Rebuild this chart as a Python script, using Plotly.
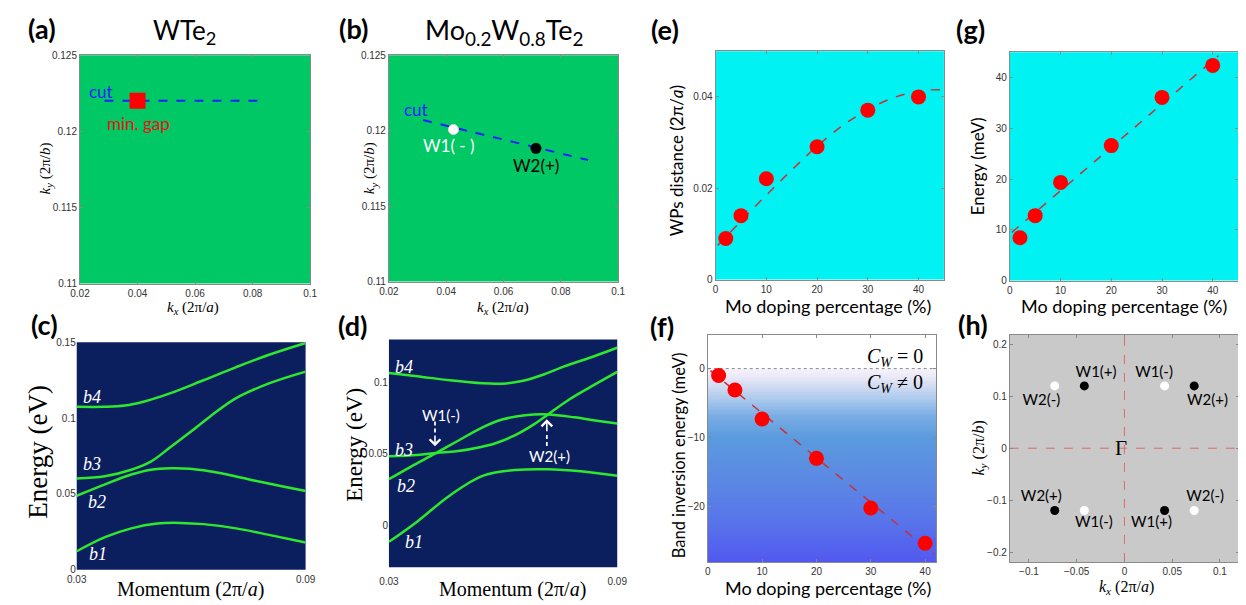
import numpy as np
import plotly.graph_objects as go

W, H = 1246, 605

# ---------------- data ----------------
# (a) WTe2 k-plane
a_cut_kx = [0.0285, 0.0846]
a_cut_ky = [0.1220, 0.1220]
a_gap_kx = [0.0400]
a_gap_ky = [0.1220]

# (b) Mo0.2W0.8Te2 k-plane
b_cut_kx = [0.0319, 0.0895]
b_cut_ky = [0.1207, 0.11805]
b_w1_kx, b_w1_ky = [0.0425], [0.12007]
b_w2_kx, b_w2_ky = [0.0713], [0.11883]

# (c) WTe2 bands
c_b4_k = [0.03, 0.0374, 0.0426, 0.0477, 0.0546, 0.0632, 0.0718, 0.0804, 0.09]
c_b4_e = [0.1075, 0.1075, 0.1083, 0.1110, 0.1165, 0.1250, 0.1337, 0.1418, 0.1496]
c_b3_k = [0.03, 0.0374, 0.0443, 0.0494, 0.0546, 0.0597, 0.0649, 0.0718, 0.0804, 0.09]
c_b3_e = [0.0602, 0.0617, 0.0660, 0.0713, 0.0810, 0.0907, 0.1010, 0.1132, 0.1229, 0.1307]
c_b2_k = [0.03, 0.0374, 0.0443, 0.0494, 0.0546, 0.0597, 0.0675, 0.0761, 0.0847, 0.09]
c_b2_e = [0.0488, 0.0563, 0.0628, 0.0660, 0.0670, 0.0666, 0.0638, 0.0591, 0.0546, 0.0520]
c_b1_k = [0.03, 0.0374, 0.0443, 0.0511, 0.0572, 0.0632, 0.0718, 0.0804, 0.09]
c_b1_e = [0.0122, 0.0215, 0.0273, 0.0305, 0.0309, 0.0301, 0.0273, 0.0230, 0.0180]

# (d) Mo0.2W0.8Te2 bands
d_b4_k = [0.03, 0.0374, 0.046, 0.0546, 0.0597, 0.0649, 0.0701, 0.0761, 0.083, 0.09]
d_b4_e = [0.1066, 0.1043, 0.1014, 0.0993, 0.0991, 0.1009, 0.1050, 0.1112, 0.1174, 0.1242]
d_b3_k = [0.03, 0.0374, 0.0426, 0.0477, 0.0529, 0.058, 0.0632, 0.0684, 0.0718, 0.0769, 0.083, 0.09]
d_b3_e = [0.0484, 0.0493, 0.0507, 0.0518, 0.0541, 0.0575, 0.0632, 0.0712, 0.0776, 0.0872, 0.0968, 0.1073]
d_b2_k = [0.03, 0.0357, 0.0421, 0.0477, 0.0546, 0.0597, 0.0658, 0.0718, 0.0787, 0.0847, 0.09]
d_b2_e = [0.0324, 0.0410, 0.0502, 0.0585, 0.0685, 0.0740, 0.0770, 0.0776, 0.0756, 0.0732, 0.0712]
d_b1_k = [0.03, 0.0374, 0.046, 0.0546, 0.0632, 0.0718, 0.0804, 0.09]
d_b1_e = [-0.0114, 0.0027, 0.0210, 0.0347, 0.0388, 0.0393, 0.0379, 0.0347]
d_w1 = (0.0421, 0.0727, 0.0553)   # k, arrow start, arrow tip
d_w2 = (0.0715, 0.0555, 0.0742)

# (e) Weyl point distance
doping = [2, 5, 10, 20, 30, 40]
e_dist = [0.0090, 0.0140, 0.0221, 0.0291, 0.0371, 0.0400]
e_fit_x = [0.4, 5, 10, 15, 20, 25, 30, 35, 40, 44.5]
e_fit_y = [0.0075, 0.0128, 0.0185, 0.0240, 0.0292, 0.0337, 0.0372, 0.0398, 0.0413, 0.0416]

# (g) Energy
g_energy = [8.45, 12.8, 19.35, 26.6, 36.1, 42.4]
g_fit_x = [0.4, 41.1]
g_fit_y = [9.5, 44.3]

# (f) Band inversion energy
f_energy = [-1.0, -3.1, -7.3, -13.0, -20.2, -25.3]
f_fit_x = [0.5, 41.6]
f_fit_y = [-0.3, -26.9]

# (h) Weyl points in BZ
h_black_kx = [-0.042, 0.073, -0.073, 0.042]
h_black_ky = [0.12, 0.12, -0.12, -0.12]
h_white_kx = [-0.073, 0.042, -0.042, 0.073]
h_white_ky = [0.12, 0.12, -0.12, -0.12]
h_labels = ["W1(+)", "W2(-)", "W1(-)", "W2(+)", "W2(+)", "W1(-)", "W1(+)", "W2(-)"]
h_label_kx = [-0.0297, -0.087, 0.031, 0.0869, -0.087, -0.032, 0.0283, 0.0845]
h_label_ky = [0.144, 0.0905, 0.144, 0.0905, -0.095, -0.1437, -0.1437, -0.095]

# ---------------- styles ----------------
GREEN_BG = "#00c864"
CYAN_BG = "#00f2f2"
NAVY_BG = "#0b1f5e"
GRAY_BG = "#c9c9c9"
BAND = "#2ee82e"
RED = "#ff0000"
FIT = "#c8303a"
SANS = "Lato"
SERIF = "Liberation Serif"
TICKF = dict(family="Liberation Sans", size=10, color="#333333")

fig = go.Figure()


def r(n):
    return "" if n == 1 else str(n)


def add(n, **kw):
    kw.setdefault("hoverinfo", "skip")
    kw.setdefault("showlegend", False)
    fig.add_trace(go.Scatter(xaxis="x" + r(n), yaxis="y" + r(n), **kw))


layout = dict(width=W, height=H, margin=dict(l=0, r=0, t=0, b=0),
              paper_bgcolor="white", plot_bgcolor="rgba(0,0,0,0)",
              showlegend=False, font=dict(family=SANS))

panels = {
    1: (63, 297, 42, 275),
    2: (377, 610, 42, 273),
    3: (709, 941, 38, 271),
    4: (1008, 1240, 39, 272),
    5: (59.7, 292.3, 335, 567),
    6: (377, 609, 332, 564.5),
    7: (701, 933, 328, 559),
    8: (1008, 1241, 327, 559),
}


def set_axes(n, xr, yr, xt, xtt, yt, ytt, frame=True, xstand=0):
    l, rr, t, b = panels[n]
    common = dict(showgrid=False, zeroline=False, tickfont=TICKF,
                  showline=frame, linecolor="#8a8a8a", linewidth=1,
                  mirror="ticks" if frame else False,
                  ticks="inside" if frame else "", ticklen=3, tickcolor="#8a8a8a")
    layout["xaxis" + r(n)] = dict(domain=[l / W, rr / W], anchor="y" + r(n), range=xr,
                                  tickmode="array", tickvals=xt, ticktext=xtt,
                                  ticklabelstandoff=xstand, **common)
    layout["yaxis" + r(n)] = dict(domain=[1 - b / H, 1 - t / H], anchor="x" + r(n), range=yr,
                                  tickmode="array", tickvals=yt, ticktext=ytt, **common)


set_axes(1, [0.02, 0.1], [0.11, 0.125],
         [0.02, 0.04, 0.06, 0.08, 0.1], ["0.02", "0.04", "0.06", "0.08", "0.1"],
         [0.11, 0.115, 0.12, 0.125], ["0.11", "0.115", "0.12", "0.125"])
set_axes(2, [0.02, 0.1], [0.11, 0.125],
         [0.02, 0.04, 0.06, 0.08, 0.1], ["0.02", "0.04", "0.06", "0.08", "0.1"],
         [0.11, 0.115, 0.12, 0.125], ["0.11", "0.115", "0.12", "0.125"])
set_axes(3, [0, 45], [0, 0.05],
         [0, 10, 20, 30, 40], ["0", "10", "20", "30", "40"],
         [0, 0.02, 0.04], ["0", "0.02", "0.04"])
set_axes(4, [0, 45], [0, 45],
         [0, 10, 20, 30, 40], ["0", "10", "20", "30", "40"],
         [0, 10, 20, 30, 40], ["0", "10", "20", "30", "40"])
set_axes(5, [0.03, 0.09], [0, 0.15],
         [0.03, 0.09], ["0.03", "0.09"],
         [0, 0.05, 0.1, 0.15], ["0", "0.05", "0.1", "0.15"], frame=False, xstand=2)
set_axes(6, [0.03, 0.09], [-0.0292, 0.130],
         [0.03, 0.09], ["0.03", "0.09"],
         [0, 0.05, 0.1], ["0", "0.05", "0.1"], frame=False, xstand=7)
set_axes(7, [0, 42], [-28, 4.8],
         [0, 10, 20, 30, 40], ["0", "10", "20", "30", "40"],
         [-20, -10, 0], ["\u221220", "\u221210", "0"])
set_axes(8, [-0.12, 0.12], [-0.219, 0.219],
         [-0.1, -0.05, 0, 0.05, 0.1], ["\u22120.1", "\u22120.05", "0", "0.05", "0.1"],
         [-0.2, -0.1, 0, 0.1, 0.2], ["\u22120.2", "\u22120.1", "0", "0.1", "0.2"])

# backgrounds
shapes = []
for n, col in [(1, GREEN_BG), (2, GREEN_BG), (3, CYAN_BG), (4, CYAN_BG),
               (5, NAVY_BG), (6, NAVY_BG), (8, GRAY_BG)]:
    shapes.append(dict(type="rect", xref="x" + r(n) + " domain", yref="y" + r(n) + " domain",
                       x0=0, x1=1, y0=0, y1=1, fillcolor=col, line=dict(width=0), layer="below"))
layout["shapes"] = shapes

# (f) gradient background
f_grad_levels = np.linspace(-28.4, -0.1, 143)
f_colorscale = [[0.0, "#5258f0"], [0.214, "#5875ea"], [0.464, "#5b8ce2"], [0.643, "#5b9ade"],
                [0.75, "#78ace4"], [0.857, "#b4cdee"], [0.946, "#e6e6f6"], [1.0, "#f7f3fb"]]
fig.add_trace(go.Heatmap(x=[-1, 43], y=f_grad_levels,
                         z=[[v, v] for v in f_grad_levels], zmin=-28, zmax=0,
                         colorscale=f_colorscale, showscale=False, hoverinfo="skip",
                         xaxis="x7", yaxis="y7"))

# (a)
add(1, x=a_cut_kx, y=a_cut_ky, mode="lines", line=dict(color="#1f1fff", width=2, dash="dash"))
add(1, x=a_gap_kx, y=a_gap_ky, mode="markers",
    marker=dict(symbol="square", size=16, color=RED))

# (b)
add(2, x=b_cut_kx, y=b_cut_ky, mode="lines", line=dict(color="#1f1fff", width=2, dash="dash"))
add(2, x=b_w1_kx, y=b_w1_ky, mode="markers",
    marker=dict(size=10, color="white", line=dict(color="#dddddd", width=1)))
add(2, x=b_w2_kx, y=b_w2_ky, mode="markers", marker=dict(size=11, color="black"))

# (c)
for k, e in [(c_b1_k, c_b1_e), (c_b2_k, c_b2_e), (c_b3_k, c_b3_e), (c_b4_k, c_b4_e)]:
    add(5, x=k, y=e, mode="lines", line=dict(color=BAND, width=2.5, shape="spline"))

# (d)
for k, e in [(d_b1_k, d_b1_e), (d_b2_k, d_b2_e), (d_b3_k, d_b3_e), (d_b4_k, d_b4_e)]:
    add(6, x=k, y=e, mode="lines", line=dict(color=BAND, width=2.5, shape="spline"))
for kk, e0, e1 in [d_w1, d_w2]:
    add(6, x=[kk, kk], y=[e0, e0 + (e1 - e0) * 0.5], mode="lines",
        line=dict(color="white", width=1.8, dash="4px,3px"))

# (e)
add(3, x=e_fit_x, y=e_fit_y, mode="lines", line=dict(color=FIT, width=1.5, dash="dash", shape="spline"))
add(3, x=doping, y=e_dist, mode="markers", marker=dict(size=15, color=RED))

# (g)
add(4, x=g_fit_x, y=g_fit_y, mode="lines", line=dict(color=FIT, width=1.5, dash="dash"))
add(4, x=doping, y=g_energy, mode="markers", marker=dict(size=15, color=RED))

# (f)
add(7, x=[0, 42], y=[0, 0], mode="lines", line=dict(color="#888888", width=1, dash="dot"))
add(7, x=f_fit_x, y=f_fit_y, mode="lines", line=dict(color=FIT, width=1.5, dash="dash"))
add(7, x=doping, y=f_energy, mode="markers", marker=dict(size=15, color=RED))

# (h)
add(8, x=[-0.12, 0.12], y=[0, 0], mode="lines", line=dict(color="#e06a6a", width=1, dash="dash"))
add(8, x=[0, 0], y=[-0.219, 0.219], mode="lines", line=dict(color="#e06a6a", width=1, dash="dash"))
add(8, x=h_black_kx, y=h_black_ky, mode="markers", marker=dict(size=9, color="black"))
add(8, x=h_white_kx, y=h_white_ky, mode="markers", marker=dict(size=9, color="white"))
add(8, x=h_label_kx, y=h_label_ky, mode="text", text=h_labels,
    textfont=dict(family=SANS, size=15, color="black"))

# ---------------- annotations ----------------
ann = []


def txt(xp, yp, text, size, color="black", family=SANS, angle=0, xanchor="center"):
    ann.append(dict(x=xp / W, y=1 - yp / H, xref="paper", yref="paper", text=text,
                    showarrow=False, textangle=angle, xanchor=xanchor, yanchor="middle",
                    font=dict(family=family, size=size, color=color)))


def dtxt(n, x, y, text, size, color, family=SANS):
    ann.append(dict(x=x, y=y, xref="x" + r(n), yref="y" + r(n), text=text, showarrow=False,
                    font=dict(family=family, size=size, color=color)))


# panel labels
for lab, xp, yp in [("(a)", 24, 15), ("(b)", 341, 15), ("(e)", 658, 16), ("(g)", 968, 16),
                    ("(c)", 27, 317), ("(d)", 340, 318), ("(f)", 655, 319), ("(h)", 971, 317)]:
    txt(xp, yp, "<b>" + lab + "</b>", 27)

# titles
txt(169, 18, "WTe<sub>2</sub>", 26)
txt(494, 18, "Mo<sub>0.2</sub>W<sub>0.8</sub>Te<sub>2</sub>", 27)

# axis titles
ky_b = "<i>k<sub>y</sub></i> (2\u03c0/<i>b</i>)"
kx_a = "<i>k<sub>x</sub></i> (2\u03c0/<i>a</i>)"
txt(28, 158, ky_b, 15, family=SERIF, angle=-90)
txt(178, 300, kx_a, 15, family=SERIF)
txt(358, 157, ky_b, 15, family=SERIF, angle=-90)
txt(493, 300, kx_a, 15, family=SERIF)

txt(20, 447, "Energy (eV)", 27, family=SERIF, angle=-90)
txt(175, 587, "Momentum (2\u03c0/<i>a</i>)", 20, family=SERIF)
txt(342, 440, "Energy (eV)", 23, family=SERIF, angle=-90)
txt(503, 587, "Momentum (2\u03c0/<i>a</i>)", 20, family=SERIF)

txt(669, 150, "WPs distance (2\u03c0/<i>a</i>)", 17, angle=-90)
txt(823, 298, "Mo doping percentage (%)", 18)
txt(976, 155, "Energy (meV)", 17, angle=-90)
txt(1124, 298, "Mo doping percentage (%)", 18)
txt(672, 450, "Band inversion energy (meV)", 16.5, angle=-90)
txt(823, 586, "Mo doping percentage (%)", 18)
txt(977, 443, ky_b, 16, family=SERIF, angle=-90)
txt(1127, 585, kx_a, 16, family=SERIF)

# (f) Chern labels
txt(922, 350, "<i>C<sub>W</sub></i> = 0", 20, family=SERIF, xanchor="right")
txt(922, 377, "<i>C<sub>W</sub></i> \u2260 0", 20, family=SERIF, xanchor="right")

# (a), (b) texts
dtxt(1, 0.0272, 0.1226, "cut", 17, "#1f1fff")
dtxt(1, 0.0402, 0.1205, "min. gap", 17, "#ee1111")
dtxt(2, 0.0296, 0.1214, "cut", 17, "#1f1fff")
dtxt(2, 0.0409, 0.1190, "W1( - )", 17, "white")
dtxt(2, 0.0712, 0.1177, "W2(+)", 17, "black")

# (c), (d) band labels
for n, items in [(5, [("b4", 0.0340, 0.1140), ("b3", 0.0340, 0.0696),
                      ("b2", 0.0352, 0.0445), ("b1", 0.0357, 0.0107)]),
                 (6, [("b4", 0.0340, 0.1107), ("b3", 0.0340, 0.0530),
                      ("b2", 0.0345, 0.0274), ("b1", 0.0365, -0.0114)])]:
    for t, x, y in items:
        dtxt(n, x, y, "<i>" + t + "</i>", 18, "white", family=SERIF)

dtxt(6, 0.0438, 0.0771, "W1(-)", 15, "white")
dtxt(6, 0.0722, 0.0487, "W2(+)", 15, "white")
# arrows (solid tip part with chevron head; dashed shaft drawn as trace above)
for kk, e0, e1 in [d_w1, d_w2]:
    ann.append(dict(x=kk, y=e1, xref="x6", yref="y6", ax=kk, ay=e0 + (e1 - e0) * 0.5,
                    axref="x6", ayref="y6", showarrow=True, arrowhead=4, arrowsize=1.3,
                    arrowwidth=1.6, arrowcolor="white", text=""))

# (h) Gamma
dtxt(8, -0.004, 0.0, "\u0393", 21, "black", family=SERIF)

layout["annotations"] = ann
fig.update_layout(**layout)
fig.write_html("out.html")
